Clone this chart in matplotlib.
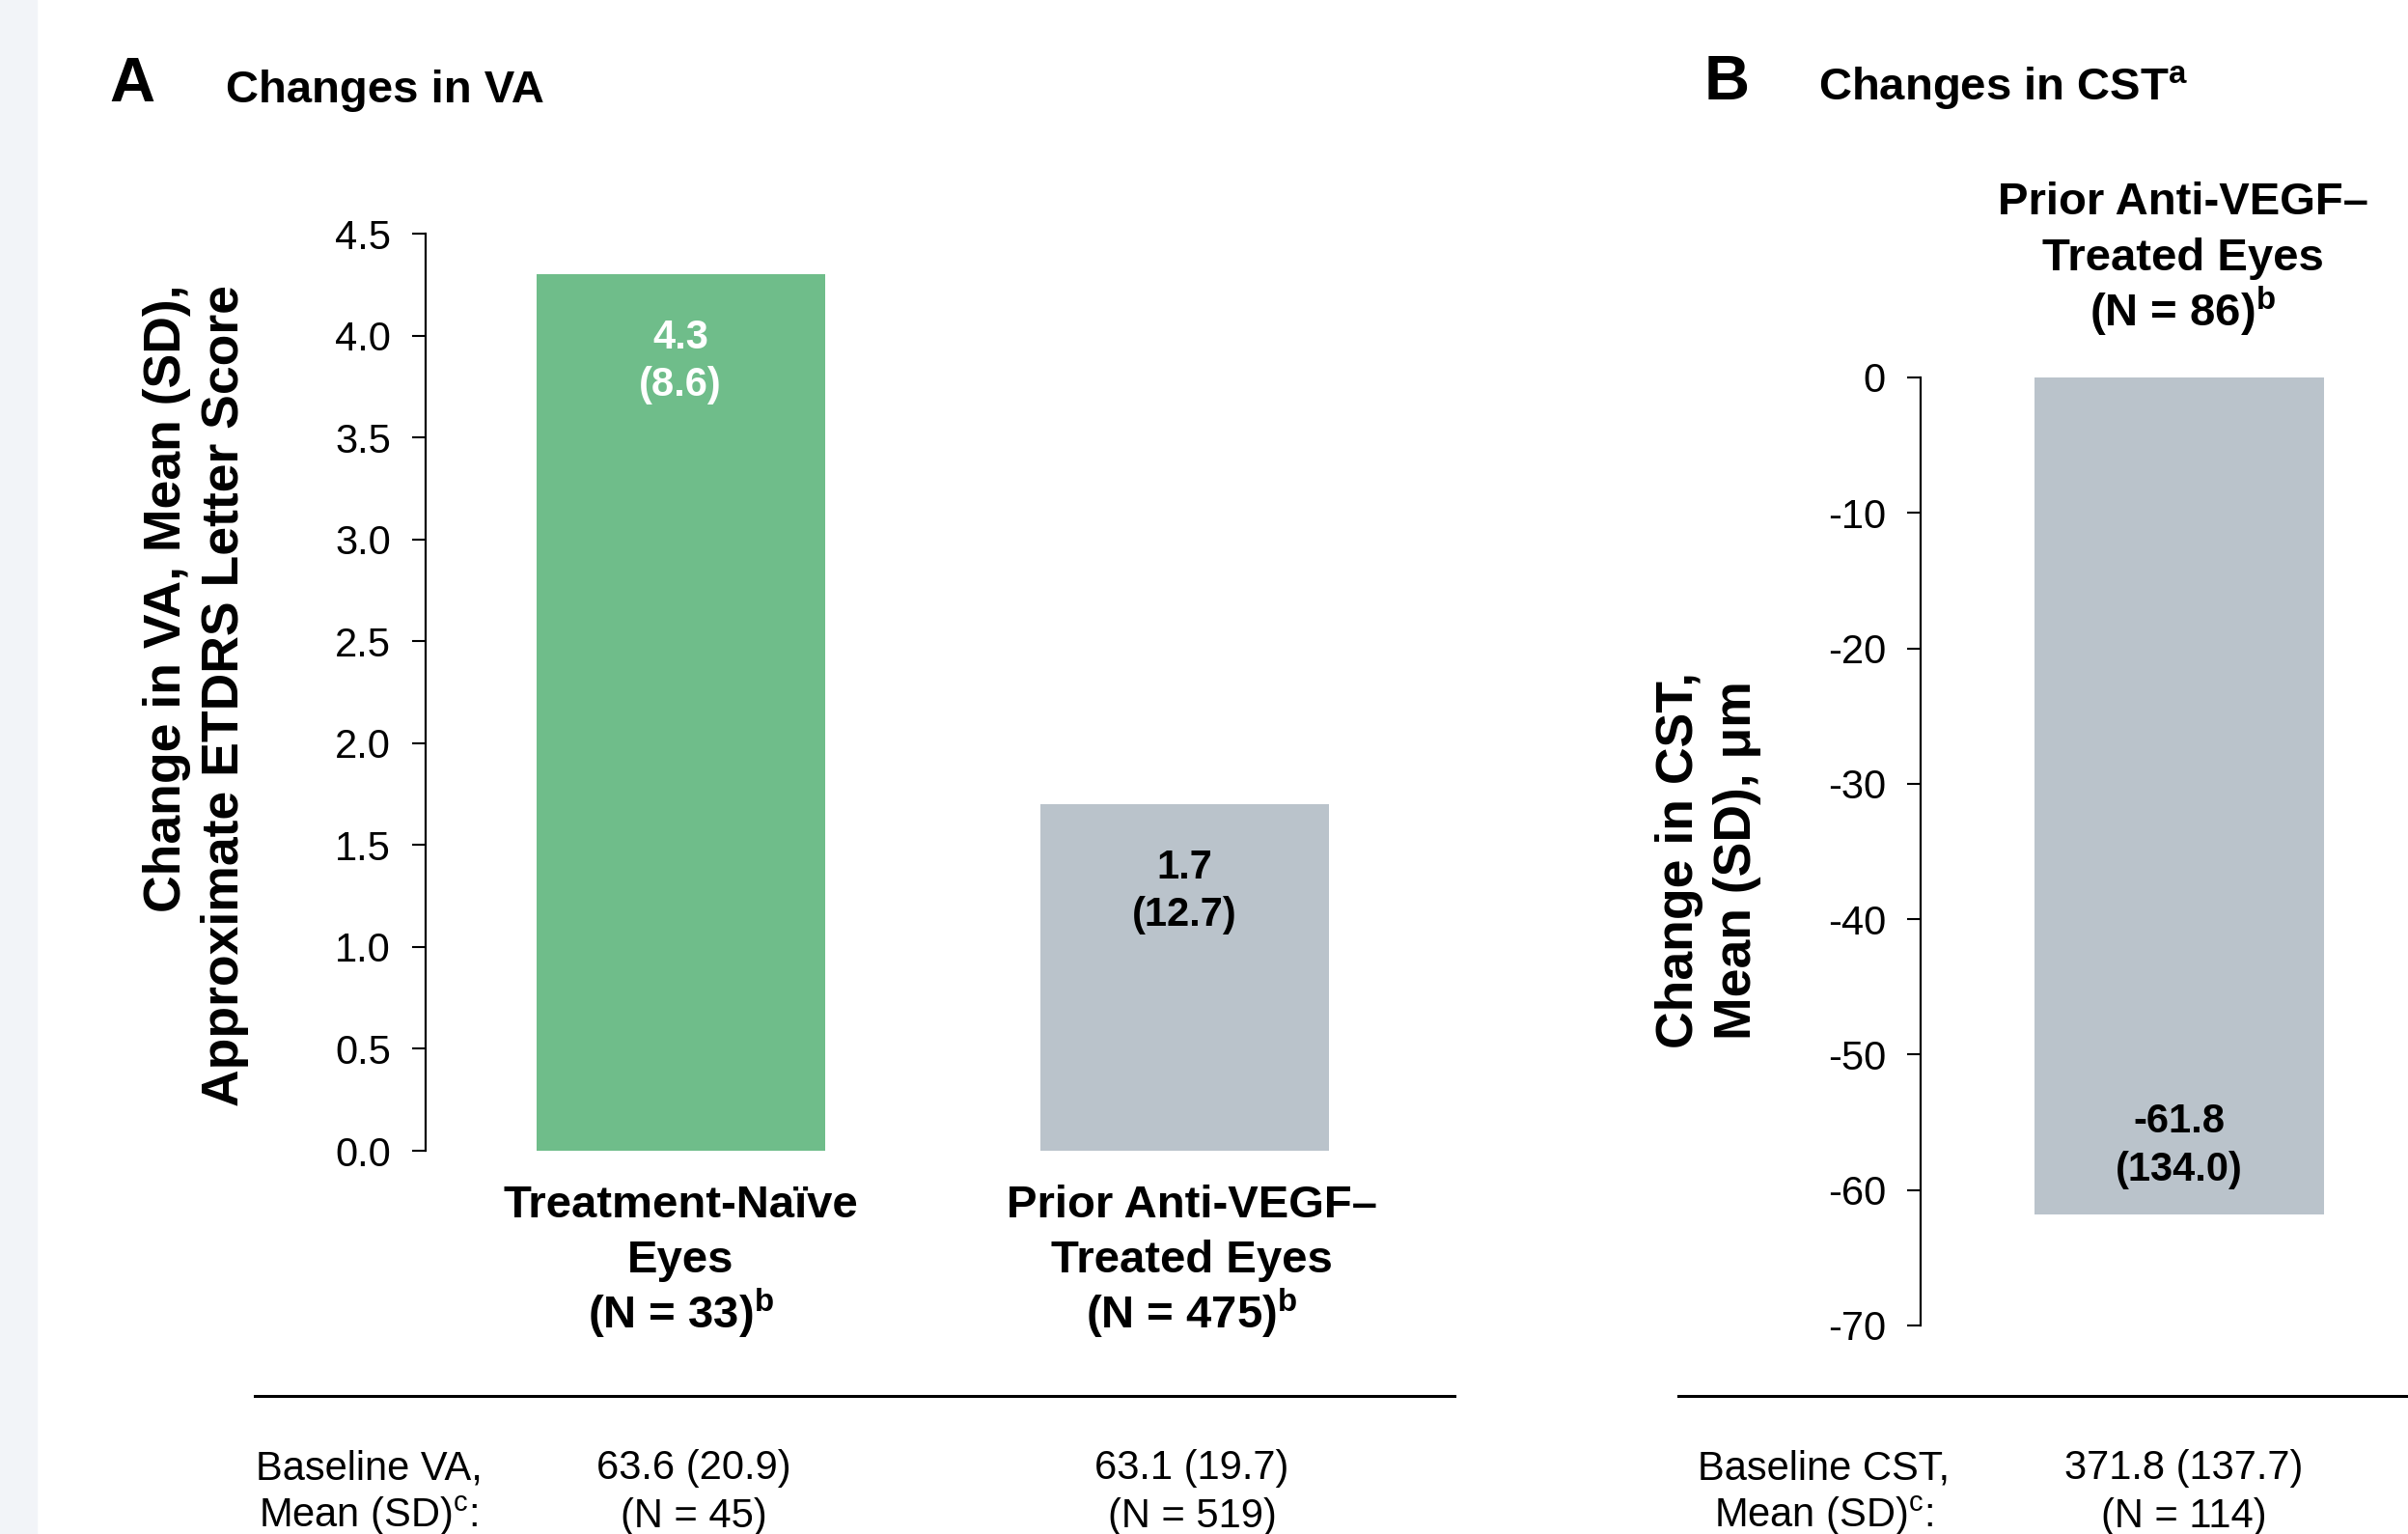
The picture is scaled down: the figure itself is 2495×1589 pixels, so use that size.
import numpy as np
import matplotlib
matplotlib.use("Agg")
import matplotlib.pyplot as plt
from matplotlib.lines import Line2D
from matplotlib.patches import Rectangle

plt.rcParams['font.family'] = ['Liberation Sans', 'DejaVu Sans']
plt.rcParams['mathtext.fontset'] = 'custom'
plt.rcParams['mathtext.rm'] = 'Liberation Sans'
plt.rcParams['mathtext.bf'] = 'Liberation Sans:bold'
plt.rcParams['axes.unicode_minus'] = False

#-------------------------------------------- data
va_groups = [["Treatment-Naïve", "Eyes", "(N = 33)$^{\\mathbf{b}}$"],
             ["Prior Anti-VEGF–", "Treated Eyes", "(N = 475)$^{\\mathbf{b}}$"]]
va_mean = [4.3, 1.7]
va_sd = [8.6, 12.7]
va_baseline = [["63.6 (20.9)", "(N = 45)"], ["63.1 (19.7)", "(N = 519)"]]
va_ticks = [0.0, 0.5, 1.0, 1.5, 2.0, 2.5, 3.0, 3.5, 4.0, 4.5]

cst_group = ["Prior Anti-VEGF–", "Treated Eyes", "(N = 86)$^{\\mathbf{b}}$"]
cst_mean = [-61.8]
cst_sd = [134.0]
cst_baseline = ["371.8 (137.7)", "(N = 114)"]
cst_ticks = [0, -10, -20, -30, -40, -50, -60, -70]

green = "#6fbd8a"
grey = "#bac3cb"

W, H = 2495, 1589
fig = plt.figure(figsize=(W / 100, H / 100), dpi=100)
fig.patches.append(Rectangle((0, 0), 38 / W, 1, transform=fig.transFigure,
                             color="#f2f4f8", zorder=0))


def px(x, y):
    return x / W, 1 - y / H


def style_axis(ax):
    for s in ["top", "right", "bottom"]:
        ax.spines[s].set_visible(False)
    ax.spines["left"].set_linewidth(1.6)
    ax.tick_params(axis="y", length=10, width=1.5, pad=16, labelsize=30)
    ax.set_xticks([])


def stack(ax, lines, xy, first, step, **kw):
    # one annotate per line, offsets in points from the data point
    for k, line in enumerate(lines):
        ax.annotate(line, xy, xytext=(0, first - k * step), textcoords="offset points",
                    ha="center", va="baseline", annotation_clip=False, **kw)


def fig_stack(lines, x, y, step, **kw):
    for k, line in enumerate(lines):
        fig.text(*px(x, y + k * step), line, ha="center", va="baseline", **kw)


#--------------------------------------------- panel A
axA = fig.add_axes([441 / W, 1 - 1192 / H, 1100 / W, 950 / H])
xa = np.arange(len(va_mean))
axA.bar(xa, va_mean, width=0.573, color=[green, grey])
axA.set_xlim(-0.506, 1.601)
axA.set_ylim(0, 4.5)
axA.set_yticks(va_ticks)
axA.set_yticklabels(["%.1f" % t for t in va_ticks])
style_axis(axA)
for i, (m, sd) in enumerate(zip(va_mean, va_sd)):
    stack(axA, ["%.1f" % m, "(%.1f)" % sd], (xa[i], m), -55, 35.5,
          fontsize=30, fontweight="bold", color="white" if i == 0 else "black")
for i, lab in enumerate(va_groups):
    stack(axA, lab, (xa[i] + (0.0 if i == 0 else 0.015), 0), -50, 41,
          fontsize=34, fontweight="bold")

fig.text(*px(203, 720), "Change in VA, Mean (SD),\nApproximate ETDRS Letter Score",
         rotation=90, ha="center", va="center", multialignment="right",
         fontsize=38.5, fontweight="bold", linespacing=1.25)
fig.text(*px(113, 105), "A", fontsize=47, fontweight="bold", va="baseline")
fig.text(*px(234, 106), "Changes in VA", fontsize=34, fontweight="bold", va="baseline")

#--------------------------------------------- panel B
axB = fig.add_axes([1990 / W, 1 - 1373 / H, 505 / W, 982 / H])
axB.bar([0], cst_mean, width=0.573, color=grey)
axB.set_xlim(-0.513, 0.454)
axB.set_ylim(-70, 0)
axB.set_yticks(cst_ticks)
axB.set_yticklabels([str(t) for t in cst_ticks])
style_axis(axB)
stack(axB, ["%.1f" % cst_mean[0], "(%.1f)" % cst_sd[0]], (0, cst_mean[0]), 61, 36,
      fontsize=30, fontweight="bold")
stack(axB, cst_group, (0.008, 0), 122, 42, fontsize=34, fontweight="bold")

fig.text(*px(1770, 891), "Change in CST,\nMean (SD), μm", rotation=90,
         ha="center", va="center", multialignment="center",
         fontsize=38.5, fontweight="bold", linespacing=1.25)
fig.text(*px(1766, 103), "B", fontsize=47, fontweight="bold", va="baseline")
fig.text(*px(1884, 104), "Changes in CST$^{\\mathbf{a}}$", fontsize=34,
         fontweight="bold", va="baseline")

#--------------------------------------------- baseline rows
for x0, x1 in [(264, 1507), (1739, 2495)]:
    fig.add_artist(Line2D([x0 / W, x1 / W], [1 - 1446 / H] * 2, color="black",
                          lw=2.2, transform=fig.transFigure))

fig_stack(["Baseline VA,", "Mean (SD)$^{\\mathrm{c}}$:"], 382, 1532, 50, fontsize=30)
for cx, lab in zip([719, 1235], va_baseline):
    fig_stack(lab, cx, 1532, 50, fontsize=30)
fig_stack(["Baseline CST,", "Mean (SD)$^{\\mathrm{c}}$:"], 1890, 1532, 50, fontsize=30)
fig_stack(cst_baseline, 2263, 1532, 50, fontsize=30)

plt.savefig("out.png", dpi=100)
